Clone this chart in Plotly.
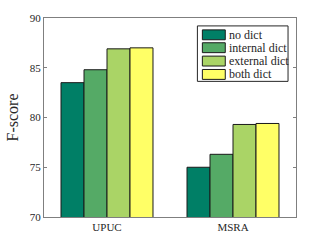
import plotly.graph_objects as go

categories = ["UPUC", "MSRA"]
series_names = ["no dict", "internal dict", "external dict", "both dict"]
no_dict = [83.5, 75.0]
internal_dict = [84.8, 76.3]
external_dict = [86.9, 79.3]
both_dict = [87.0, 79.4]
colors = ["#007f66", "#55aa66", "#aad466", "#ffff66"]
y_ticks = [70, 75, 80, 85, 90]

FONT = "Liberation Serif, Times New Roman, serif"
TXT = "#262626"
axis_col = "#7f7f7f"

W, H = 327, 245
ML, MR, MT, MB = 43, 31, 17, 27
PW, PH = W - ML - MR, H - MT - MB

def px_x(p):
    return (p - ML) / PW

def px_y(p):
    return (H - MB - p) / PH

fig = go.Figure()
for name, vals, c in zip(series_names, [no_dict, internal_dict, external_dict, both_dict], colors):
    fig.add_trace(go.Bar(x=[1, 2], y=vals, name=name, showlegend=False,
                         marker=dict(color=c, line=dict(color="#1a1a1a", width=1))))

# manual legend (MATLAB-like)
shapes = [dict(type="rect", xref="paper", yref="paper",
               x0=px_x(197), x1=px_x(288), y0=px_y(81), y1=px_y(25),
               fillcolor="white", line=dict(color=TXT, width=1), layer="above")]
annotations = []
row_centers = [34, 47, 60.5, 74]
for name, c, yc in zip(series_names, colors, row_centers):
    shapes.append(dict(type="rect", xref="paper", yref="paper",
                       x0=px_x(202), x1=px_x(225), y0=px_y(yc + 5), y1=px_y(yc - 5),
                       fillcolor=c, line=dict(color="#1a1a1a", width=1), layer="above"))
    annotations.append(dict(xref="paper", yref="paper", x=px_x(227), y=px_y(yc),
                            xanchor="left", yanchor="middle", text=name, showarrow=False,
                            font=dict(family=FONT, size=12, color=TXT)))

fig.update_layout(
    width=W, height=H,
    margin=dict(l=ML, r=MR, t=MT, b=MB),
    paper_bgcolor="white", plot_bgcolor="white",
    barmode="group", bargap=0.27, bargroupgap=0,
    font=dict(family=FONT, color=TXT, size=11),
    showlegend=False,
    shapes=shapes, annotations=annotations,
    xaxis=dict(range=[0.5, 2.5], tickvals=[1, 2], ticktext=categories,
               showline=True, linecolor=axis_col, linewidth=1, mirror=True,
               ticks="", showgrid=False, zeroline=False,
               tickfont=dict(family=FONT, size=11, color=TXT)),
    yaxis=dict(range=[70, 90], tickvals=y_ticks, ticktext=[str(v) for v in y_ticks],
               showline=True, linecolor=axis_col, linewidth=1, mirror="ticks",
               ticks="inside", ticklen=3, tickcolor=axis_col,
               showgrid=False, zeroline=False,
               tickfont=dict(family=FONT, size=11, color=TXT),
               title=dict(text="F-score", font=dict(family=FONT, size=16, color=TXT), standoff=7)),
)
fig.write_html("out.html", config={"displayModeBar": False},
               post_script="document.body.style.margin='0';")
